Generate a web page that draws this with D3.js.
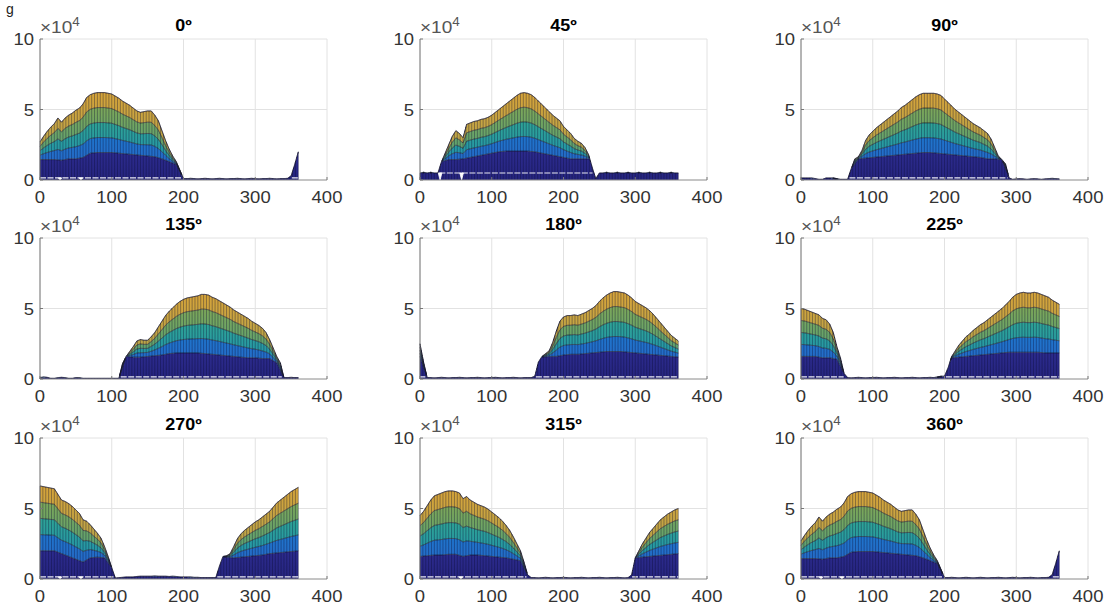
<!DOCTYPE html>
<html><head><meta charset="utf-8">
<script src="https://cdn.jsdelivr.net/npm/d3@7"></script>
<style>body{margin:0;background:#fff;} svg{display:block;} text{font-family:"Liberation Sans",Arial,Helvetica,sans-serif;}</style>
</head><body><svg id="c" width="1111" height="608"></svg>
<script>
// ---------- data (values in units of 10^4) ----------
const titles = ["0º","45º","90º","135º","180º","225º","270º","315º","360º"];
const xTicks = [0,100,200,300,400];
const yTicks = [0,5,10];
const yTickLabels = ["0","5","10"];
const topStep = 5;   // top profile sampled every 5 units (0..360)
const navyStep = 10; // navy band level sampled every 10 units (0..360)

const top0 = [2.7,3.1,3.45,3.75,4.0,4.4,4.1,4.4,4.6,4.75,
  4.95,5.1,5.4,5.85,6.05,6.15,6.2,6.2,6.2,6.15,
  6.1,5.95,5.8,5.6,5.45,5.3,5.1,4.9,4.8,4.85,
  4.9,4.9,4.6,4.2,3.5,2.8,2.2,1.7,1.3,0.7,
  0.1,0.1,0.12,0.1,0.08,0.1,0.12,0.1,0.08,0.1,
  0.12,0.1,0.08,0.1,0.1,0.12,0.1,0.08,0.1,0.12,
  0.1,0.08,0.1,0.1,0.12,0.1,0.08,0.1,0.1,0.12,
  0.3,1.1,2.0];
const navy0 = [1.45,1.45,1.45,1.4,1.5,1.5,1.6,1.9,1.95,1.95,
  1.95,1.9,1.85,1.8,1.75,1.7,1.65,1.5,1.3,1.1,
  0.1,0.1,0.1,0.1,0.1,0.1,0.1,0.1,0.1,0.1,
  0.1,0.1,0.1,0.1,0.1,0.3,2.0];

const top45 = [0.5,0.55,0.5,0.55,0.5,0.5,1.3,1.9,2.5,3.1,
  3.5,3.3,3.0,3.95,4.05,4.15,4.2,4.3,4.35,4.45,
  4.6,4.8,5.0,5.2,5.4,5.6,5.8,6.0,6.15,6.2,
  6.15,6.05,5.85,5.6,5.35,5.1,4.85,4.6,4.4,4.2,
  3.8,3.55,3.3,2.95,2.75,2.6,2.3,1.8,0.9,0.1,
  0.5,0.5,0.55,0.5,0.5,0.55,0.5,0.5,0.55,0.5,
  0.5,0.55,0.5,0.5,0.55,0.5,0.5,0.55,0.5,0.5,
  0.55,0.5,0.5];
const navy45 = [0.5,0.5,0.5,1.3,1.45,1.45,1.5,1.6,1.7,1.8,
  1.9,2.0,2.05,2.05,2.05,2.05,2.0,1.9,1.8,1.7,
  1.6,1.5,1.5,1.5,1.5,0.5,0.5,0.5,0.5,0.5,
  0.5,0.5,0.5,0.5,0.5,0.5,0.5];

const top90 = [0.15,0.15,0.15,0.15,0.1,0.05,0.05,0.15,0.15,0.15,
  0.1,0.05,0.05,0.05,0.8,1.5,1.65,2.1,2.8,3.2,
  3.45,3.7,3.9,4.1,4.3,4.5,4.7,4.9,5.15,5.3,
  5.5,5.7,5.9,6.05,6.15,6.15,6.15,6.15,6.1,6.0,
  5.75,5.5,5.25,5.0,4.8,4.6,4.4,4.2,4.0,3.85,
  3.7,3.5,3.3,2.9,2.3,1.7,1.45,1.15,0.15,0.05,
  0.08,0.1,0.08,0.05,0.08,0.1,0.08,0.05,0.08,0.1,
  0.12,0.1,0.08];
const navy90 = [0.15,0.15,0.1,0.15,0.15,0.05,0.05,0.8,1.5,1.55,
  1.6,1.65,1.7,1.75,1.8,1.85,1.9,1.95,1.95,1.9,
  1.85,1.8,1.75,1.7,1.65,1.6,1.5,1.5,1.45,0.2,
  0.08,0.08,0.08,0.08,0.08,0.1,0.08];

const top135 = [0.1,0.15,0.12,0.05,0.05,0.1,0.12,0.1,0.05,0.05,
  0.1,0.1,0.05,0.05,0.05,0.05,0.05,0.05,0.05,0.05,
  0.05,0.05,0.05,1.1,1.6,1.95,2.3,2.7,2.8,2.75,
  2.75,3.0,3.3,3.7,4.1,4.5,4.8,5.05,5.3,5.5,
  5.65,5.75,5.8,5.85,5.9,6.0,6.0,5.95,5.8,5.7,
  5.55,5.4,5.25,5.1,4.9,4.75,4.6,4.45,4.3,4.1,
  3.95,3.8,3.6,3.3,2.8,2.2,1.6,1.15,0.1,0.1,
  0.12,0.1,0.1];
const navy135 = [0.1,0.12,0.05,0.12,0.05,0.1,0.05,0.05,0.05,0.05,
  0.05,0.05,1.6,1.55,1.55,1.6,1.65,1.7,1.8,1.85,
  1.85,1.85,1.85,1.8,1.75,1.7,1.65,1.6,1.55,1.5,
  1.5,1.45,1.45,1.15,0.1,0.1,0.1];

const top180 = [2.5,1.2,0.1,0.1,0.08,0.1,0.12,0.1,0.08,0.1,
  0.1,0.12,0.1,0.08,0.1,0.1,0.12,0.1,0.08,0.1,
  0.1,0.12,0.1,0.08,0.1,0.1,0.12,0.1,0.08,0.1,
  0.1,0.1,0.2,1.2,1.6,1.8,2.0,2.6,3.4,4.1,
  4.4,4.5,4.5,4.55,4.5,4.6,4.7,4.85,5.0,5.2,
  5.5,5.75,5.95,6.1,6.2,6.2,6.15,6.1,5.95,5.75,
  5.5,5.35,5.2,5.05,4.85,4.6,4.3,4.0,3.7,3.4,
  3.1,2.9,2.7];
const navy180 = [1.6,0.1,0.1,0.1,0.1,0.1,0.1,0.1,0.1,0.1,
  0.1,0.1,0.1,0.1,0.1,0.1,1.5,1.55,1.6,1.6,
  1.7,1.75,1.75,1.8,1.85,1.9,1.95,1.95,1.95,1.9,
  1.85,1.8,1.75,1.7,1.65,1.6,1.55];

const top225 = [5.0,4.95,4.85,4.75,4.65,4.55,4.3,4.2,3.9,3.3,
  2.3,1.5,0.4,0.1,0.08,0.1,0.12,0.1,0.08,0.1,
  0.1,0.12,0.1,0.08,0.1,0.1,0.12,0.1,0.08,0.1,
  0.1,0.12,0.1,0.08,0.1,0.1,0.12,0.1,0.15,0.2,
  0.2,0.8,1.6,2.0,2.4,2.7,3.0,3.2,3.45,3.65,
  3.85,4.0,4.2,4.4,4.6,4.8,5.0,5.25,5.5,5.8,
  6.0,6.1,6.15,6.1,6.1,6.15,6.1,6.0,5.9,5.8,
  5.6,5.45,5.3];
const navy225 = [1.6,1.6,1.6,1.5,1.5,1.4,0.4,0.1,0.1,0.1,
  0.1,0.1,0.1,0.1,0.1,0.1,0.1,0.1,0.1,0.1,
  0.2,1.5,1.55,1.6,1.65,1.7,1.75,1.8,1.85,1.9,
  1.9,1.9,1.9,1.9,1.85,1.85,1.85];

const top270 = [6.6,6.55,6.5,6.45,6.4,6.0,5.6,5.5,5.35,5.15,
  4.9,4.65,4.2,4.1,3.85,3.55,3.25,2.9,2.3,1.6,
  0.8,0.07,0.1,0.12,0.15,0.15,0.15,0.18,0.2,0.2,
  0.2,0.2,0.22,0.2,0.2,0.2,0.18,0.2,0.18,0.15,
  0.15,0.15,0.15,0.12,0.12,0.1,0.1,0.1,0.1,0.1,
  0.9,1.6,1.65,1.8,2.3,2.85,3.2,3.45,3.65,3.85,
  4.05,4.2,4.4,4.6,4.8,5.1,5.4,5.6,5.8,6.0,
  6.2,6.35,6.5];
const navy270 = [2.0,2.0,2.0,1.8,1.6,1.4,1.2,1.5,1.55,1.5,
  0.8,0.1,0.15,0.2,0.2,0.2,0.2,0.2,0.2,0.15,
  0.15,0.12,0.1,0.1,0.1,1.6,1.55,1.5,1.55,1.6,
  1.65,1.7,1.8,1.85,1.9,1.95,2.0];

const top315 = [4.5,4.8,5.2,5.6,5.9,6.0,6.1,6.2,6.25,6.25,
  6.2,6.1,5.7,5.85,5.6,5.45,5.3,5.2,5.1,4.95,
  4.75,4.55,4.35,4.1,3.8,3.45,3.0,2.5,2.0,1.2,
  0.3,0.1,0.1,0.08,0.1,0.12,0.1,0.08,0.1,0.1,
  0.12,0.1,0.08,0.1,0.1,0.12,0.1,0.08,0.1,0.1,
  0.12,0.1,0.08,0.1,0.1,0.12,0.1,0.08,0.1,0.3,
  1.5,2.0,2.5,2.9,3.3,3.6,3.9,4.2,4.4,4.6,
  4.75,4.9,5.0];
const navy315 = [1.6,1.65,1.7,1.7,1.75,1.75,1.6,1.7,1.7,1.65,
  1.6,1.55,1.5,1.4,1.3,0.3,0.1,0.1,0.1,0.1,
  0.1,0.1,0.1,0.1,0.1,0.1,0.1,0.1,0.1,0.3,
  1.5,1.55,1.6,1.65,1.7,1.75,1.8];

const top360 = [2.7,3.1,3.45,3.75,4.0,4.4,4.1,4.4,4.6,4.75,
  4.95,5.1,5.4,5.85,6.05,6.15,6.2,6.2,6.2,6.15,
  6.1,5.95,5.8,5.6,5.45,5.3,5.1,4.9,4.8,4.85,
  4.9,4.9,4.6,4.2,3.5,2.8,2.2,1.7,1.3,0.7,
  0.1,0.1,0.12,0.1,0.08,0.1,0.12,0.1,0.08,0.1,
  0.12,0.1,0.08,0.1,0.1,0.12,0.1,0.08,0.1,0.12,
  0.1,0.08,0.1,0.1,0.12,0.1,0.08,0.1,0.1,0.12,
  0.3,1.1,2.0];
const navy360 = [1.45,1.45,1.45,1.4,1.5,1.5,1.6,1.9,1.95,1.95,
  1.95,1.9,1.85,1.8,1.75,1.7,1.65,1.5,1.3,1.1,
  0.1,0.1,0.1,0.1,0.1,0.1,0.1,0.1,0.1,0.1,
  0.1,0.1,0.1,0.1,0.1,0.3,2.0];

const baseLevels = [0.15,0.5,0.15,0.15,0.15,0.15,0.15,0.15,0.15];
const notchPositions = [[28,57],[28,58],[],[],[],[],[28,57],[57],[28,57]];
const bandFractions = [0.25,0.5,0.75];           // split of the upper part into 4 bands
const bandColorsTop = ["#2c2b8e","#1f74cc","#2ea396","#7ca75a","#d6a43a"];
const bandColorsBot = ["#26257f","#2a66c4","#1f8fb4","#4c9f80","#a9a653"];

const tops = [top0,top45,top90,top135,top180,top225,top270,top315,top360];
const navys = [navy0,navy45,navy90,navy135,navy180,navy225,navy270,navy315,navy360];

// ---------- layout ----------
const colLefts = [40,420,801];
const rowTops = [39,238,438];
const W = 287, H = 141;
const SX = 1.12; // horizontal stretch of the texts in the reference

const svg = d3.select("#c");
const defs = svg.append("defs");
bandColorsTop.forEach((c,k)=>{
  const gr = defs.append("linearGradient").attr("id","bg"+k).attr("x1",0).attr("y1",0).attr("x2",0).attr("y2",1);
  gr.append("stop").attr("offset","0%").attr("stop-color",c);
  gr.append("stop").attr("offset","100%").attr("stop-color",bandColorsBot[k]);
});

svg.append("text").attr("x",6).attr("y",14).attr("font-size",14).attr("fill","#222").text("g");

function sample(arr, step, u){
  const i = Math.min(Math.floor(u/step), arr.length-2);
  const t = (u - i*step)/step;
  return arr[i]*(1-t) + arr[i+1]*t;
}
function stretchedText(parent, x, y, anchor){
  return parent.append("text")
    .attr("transform",`translate(${x},${y}) scale(${SX},1)`)
    .attr("text-anchor",anchor);
}

const us = d3.range(0, 360.001, 0.5);

titles.forEach((title, i)=>{
  const r = Math.floor(i/3), c = i%3;
  const g = svg.append("g").attr("transform",`translate(${colLefts[c]},${rowTops[r]})`);
  const x = d3.scaleLinear().domain([0,400]).range([0,W]);
  const y = d3.scaleLinear().domain([0,10]).range([H,0]);

  // grid
  g.append("g").selectAll("line").data(xTicks.slice(1)).join("line")
    .attr("x1",d=>x(d)).attr("x2",d=>x(d)).attr("y1",0).attr("y2",H)
    .attr("stroke","#e2e2e2").attr("stroke-width",1);
  g.append("g").selectAll("line").data(yTicks.slice(1)).join("line")
    .attr("x1",0).attr("x2",W).attr("y1",d=>y(d)).attr("y2",d=>y(d))
    .attr("stroke","#e2e2e2").attr("stroke-width",1);

  const topArr = tops[i], navyArr = navys[i];
  const pts = us.map(u=>{
    const t = sample(topArr, topStep, u);
    const n = Math.min(sample(navyArr, navyStep, u), t);
    const lv = [0, n];
    bandFractions.forEach(f=>lv.push(n + f*(t-n)));
    lv.push(t);
    return {u, lv, t, n};
  });

  for(let k=0;k<5;k++){
    const area = d3.area().x(d=>x(d.u)).y0(d=>y(d.lv[k])).y1(d=>y(d.lv[k+1]));
    g.append("path").datum(pts).attr("d",area).attr("fill",`url(#bg${k})`).attr("stroke","none");
  }

  // mesh vertical lines
  const meshU = d3.range(0, 360.001, 4);
  g.append("g").selectAll("line").data(meshU).join("line")
    .attr("x1",d=>x(d)).attr("x2",d=>x(d))
    .attr("y1",y(0)).attr("y2",d=>y(sample(topArr, topStep, d)))
    .attr("stroke","#0a0a30").attr("stroke-opacity",0.45).attr("stroke-width",0.8);

  // band boundary lines
  for(let k=1;k<5;k++){
    const line = d3.line().defined(d=>d.t - d.n > 0.04).x(d=>x(d.u)).y(d=>y(d.lv[k]));
    g.append("path").datum(pts).attr("d",line).attr("fill","none")
      .attr("stroke","#1b1b2b").attr("stroke-opacity",0.8).attr("stroke-width",0.9);
  }
  // top outline
  g.append("path").datum(pts).attr("d",d3.line().x(d=>x(d.u)).y(d=>y(d.t)))
    .attr("fill","none").attr("stroke","#151530").attr("stroke-width",1);

  // white base line
  const base = baseLevels[i];
  g.append("path").datum(pts)
    .attr("d",d3.line().defined(d=>d.n > base + 0.25).x(d=>x(d.u)).y(()=>y(base)))
    .attr("fill","none").attr("stroke","#ffffff").attr("stroke-width",1.1).attr("stroke-opacity",0.9)
    .attr("stroke-dasharray","6,1.5");
  // notches of the base line
  g.append("g").selectAll("path").data(notchPositions[i]).join("path")
    .attr("d",d=>`M${x(d-2.5)},${y(base)}L${x(d)},${y(0)}L${x(d+2.5)},${y(base)}Z`)
    .attr("fill","#ffffff").attr("stroke","#ffffff").attr("stroke-width",0.8);

  // axes
  g.append("line").attr("x1",0).attr("x2",W).attr("y1",H).attr("y2",H).attr("stroke","#8a8a8a").attr("stroke-width",1);
  g.append("line").attr("x1",0).attr("x2",0).attr("y1",0).attr("y2",H).attr("stroke","#6a6a6a").attr("stroke-width",1);
  g.append("g").selectAll("line").data(xTicks).join("line")
    .attr("x1",d=>x(d)).attr("x2",d=>x(d)).attr("y1",H).attr("y2",H-3).attr("stroke","#777");
  g.append("g").selectAll("line").data(yTicks).join("line")
    .attr("x1",0).attr("x2",3).attr("y1",d=>y(d)).attr("y2",d=>y(d)).attr("stroke","#777");

  xTicks.forEach(d=>{
    stretchedText(g, x(d), H+23, "middle").attr("font-size",16.5).attr("fill","#333").text(d);
  });
  yTicks.forEach((d,j)=>{
    stretchedText(g, -6, y(d)+6, "end").attr("font-size",16.5).attr("fill","#333").text(yTickLabels[j]);
  });

  // exponent label
  const ex = stretchedText(g, 0, -6, "start").attr("font-size",17).attr("fill","#555");
  ex.append("tspan").text("×10");
  ex.append("tspan").attr("dy",-7).attr("font-size",12).text("4");

  // title
  stretchedText(g, W/2, -8, "middle")
    .attr("font-size",16).attr("font-weight","bold").attr("fill","#000").text(title);
});
</script></body></html>
